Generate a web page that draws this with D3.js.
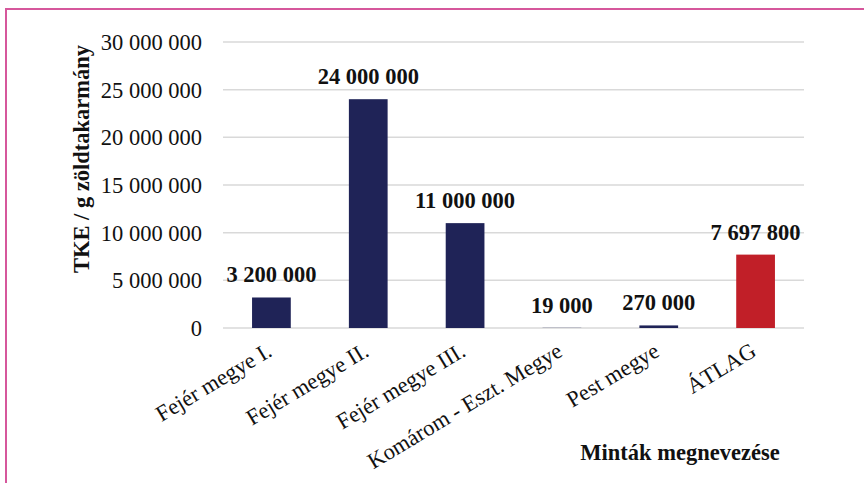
<!DOCTYPE html>
<meta charset="utf-8">
<style>
body { margin: 0; background: #fff; }
text { font-family: "Liberation Serif", "DejaVu Serif", serif; fill: #111; }
.grid line { stroke: #d9d9d9; stroke-width: 1.5px; }
.tick-label { font-size: 22.5px; }
.value { font-size: 22.5px; font-weight: bold; }
.cat { font-size: 22.5px; }
.title { font-size: 22.5px; font-weight: bold; }
</style>
<body>
<svg id="chart"></svg>
<script src="https://d3js.org/d3.v7.min.js"></script>
<script>

var categories = ["Fejér megye I.", "Fejér megye II.", "Fejér megye III.",
                  "Komárom - Eszt. Megye", "Pest megye", "ÁTLAG"];
var values = [3200000, 24000000, 11000000, 19000, 270000, 7697800];
var valueLabels = ["3 200 000", "24 000 000", "11 000 000", "19 000", "270 000", "7 697 800"];
var yTicks = [0, 5000000, 10000000, 15000000, 20000000, 25000000, 30000000];
var yTickLabels = ["0", "5 000 000", "10 000 000", "15 000 000", "20 000 000", "25 000 000", "30 000 000"];

var width = 864,
    height = 483;

var svg = d3.select("#chart")
    .attr("width", width)
    .attr("height", height);

// pink frame, runs off the right and bottom
svg.append("rect")
    .attr("x", 6).attr("y", 9)
    .attr("width", 900).attr("height", 500)
    .attr("fill", "none")
    .attr("stroke", "#d6579c")
    .attr("stroke-width", 2);

var x = d3.scaleBand()
    .domain(categories)
    .range([223, 804])
    .paddingInner(0.6)
    .paddingOuter(0.3);

var y = d3.scaleLinear()
    .domain([0, 30000000])
    .range([328, 42]);

// gridlines
svg.append("g")
    .attr("class", "grid")
  .selectAll("line")
  .data(yTicks)
  .enter().append("line")
    .attr("x1", 223)
    .attr("x2", 804)
    .attr("y1", function(d) { return y(d); })
    .attr("y2", function(d) { return y(d); });

// y tick labels
svg.append("g")
  .selectAll("text")
  .data(yTicks)
  .enter().append("text")
    .attr("class", "tick-label")
    .attr("x", 202)
    .attr("y", function(d) { return y(d); })
    .attr("dy", "0.35em")
    .attr("text-anchor", "end")
    .text(function(d, i) { return yTickLabels[i]; });

// bars
svg.append("g")
  .selectAll("rect")
  .data(values)
  .enter().append("rect")
    .attr("x", function(d, i) { return x(categories[i]); })
    .attr("width", x.bandwidth())
    .attr("y", function(d) { return y(d); })
    .attr("height", function(d) { return y(0) - y(d); })
    .attr("fill", function(d, i) { return i === categories.length - 1 ? "#c11f28" : "#1f2357"; });

// value labels
svg.append("g")
  .selectAll("text")
  .data(values)
  .enter().append("text")
    .attr("class", "value")
    .attr("x", function(d, i) { return x(categories[i]) + x.bandwidth() / 2; })
    .attr("y", function(d) { return y(d) - 15; })
    .attr("text-anchor", "middle")
    .text(function(d, i) { return valueLabels[i]; });

// category labels
svg.append("g")
  .selectAll("text")
  .data(categories)
  .enter().append("text")
    .attr("class", "cat")
    .attr("text-anchor", "end")
    .attr("transform", function(d) {
      return "translate(" + (x(d) + x.bandwidth() / 2 + 2) + ",355)rotate(-31)";
    })
    .text(function(d) { return d; });

// axis titles
svg.append("text")
    .attr("class", "title")
    .attr("text-anchor", "middle")
    .attr("transform", "translate(89,159)rotate(-90)")
    .text("TKE / g zöldtakarmány");

svg.append("text")
    .attr("class", "title")
    .attr("x", 680)
    .attr("y", 460)
    .attr("text-anchor", "middle")
    .text("Minták megnevezése");

</script>
